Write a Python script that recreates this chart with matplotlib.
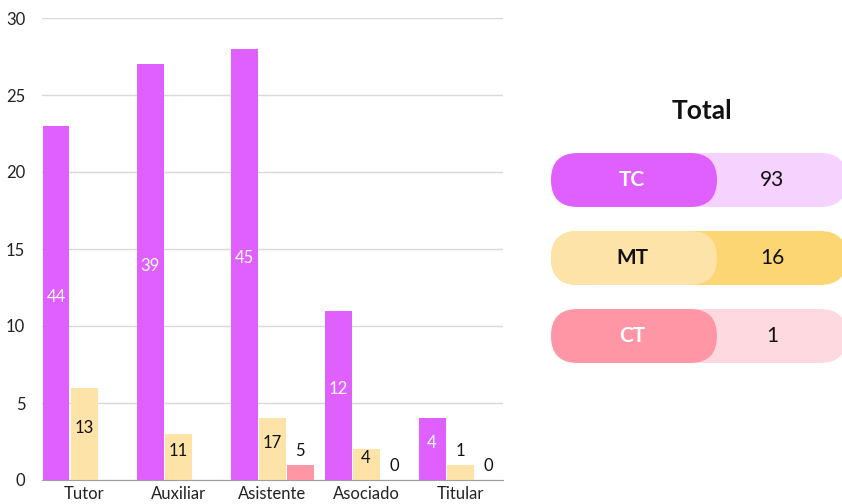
import numpy as np
import matplotlib
matplotlib.use("Agg")
import matplotlib.pyplot as plt
from matplotlib.patches import FancyBboxPatch

plt.rcParams['font.family'] = ['Lato', 'DejaVu Sans']

# categories and series
categories = ['Tutor', 'Auxiliar', 'Asistente', 'Asociado', 'Titular']
series = ['TC', 'MT', 'CT']
tc_counts = [23, 27, 28, 11, 4]
mt_counts = [6, 3, 4, 2, 1]
ct_counts = [0, 0, 1, 0, 0]
# numbers printed on the bars
tc_labels = [44, 39, 45, 12, 4]
mt_labels = [13, 11, 17, 4, 1]
ct_labels = [None, None, 5, 0, 0]

colors = {'TC': '#E060FF', 'MT': '#FDE3A7', 'CT': '#FF96A6'}
light = {'TC': '#F5D2FF', 'MT': '#FDD674', 'CT': '#FFD9E0'}
text_col = {'TC': 'white', 'MT': '#111111', 'CT': 'white'}

fig = plt.figure(figsize=(8.42, 5.04), dpi=100)
ax = fig.add_axes([42 / 842, 24 / 504, 461 / 842, 462 / 504])

x = np.arange(len(categories))
w = 0.287
offsets = [-0.298, 0.0, 0.298]
data = [tc_counts, mt_counts, ct_counts]
labels = [tc_labels, mt_labels, ct_labels]
label_colors = ['white', '#111111', '#111111']

for s, vals, labs, off, lc in zip(series, data, labels, offsets, label_colors):
    ax.bar(x + off, vals, width=w, color=colors[s], zorder=3)
    for xi, v, lab in zip(x, vals, labs):
        if lab is None:
            continue
        y = v / 2 + 0.4 if v >= 2 else v + 0.9
        c = lc if v >= 2 else '#111111'
        ax.text(xi + off, y, str(lab), ha='center', va='center',
                fontsize=12, color=c, zorder=4)

ax.set_xlim(-0.447, 4.457)
ax.set_ylim(0, 30)
ax.set_yticks(range(0, 31, 5))
ax.set_xticks(x)
ax.set_xticklabels(categories)
ax.tick_params(length=0, labelsize=12, colors='#222222')
ax.tick_params(axis='y', pad=12)
ax.tick_params(axis='x', pad=4)
ax.grid(axis='y', color='#D9D9D9', linewidth=1, zorder=0)
for side in ['top', 'right', 'left']:
    ax.spines[side].set_visible(False)
ax.spines['bottom'].set_color('#9E9E9E')
ax.spines['bottom'].set_zorder(5)

# totals panel on the right, in pixel coordinates
totals = [sum(tc_counts), sum(mt_counts), sum(ct_counts)]
panel = fig.add_axes([0, 0, 1, 1])
panel.set_xlim(0, 842)
panel.set_ylim(504, 0)
panel.axis('off')
panel.patch.set_alpha(0)

panel.text(702, 111, 'Total', ha='center', va='center', fontsize=19,
           fontweight='bold', color='#111111')

row_tops = [153, 231, 309]
h = 54
for s, tot, top in zip(series, totals, row_tops):
    panel.add_patch(FancyBboxPatch((551, top), 296, h,
                                   boxstyle=f'round,pad=0,rounding_size={h / 2}',
                                   facecolor=light[s], edgecolor='none'))
    panel.add_patch(FancyBboxPatch((551, top), 166, h,
                                   boxstyle=f'round,pad=0,rounding_size={h / 2}',
                                   facecolor=colors[s], edgecolor='none'))
    panel.text(632, top + h / 2, s, ha='center', va='center', fontsize=15,
               fontweight='bold', color=text_col[s])
    panel.text(772, top + h / 2, str(tot), ha='center', va='center',
               fontsize=15, color='#111111')

fig.savefig('out.png', dpi=100)
